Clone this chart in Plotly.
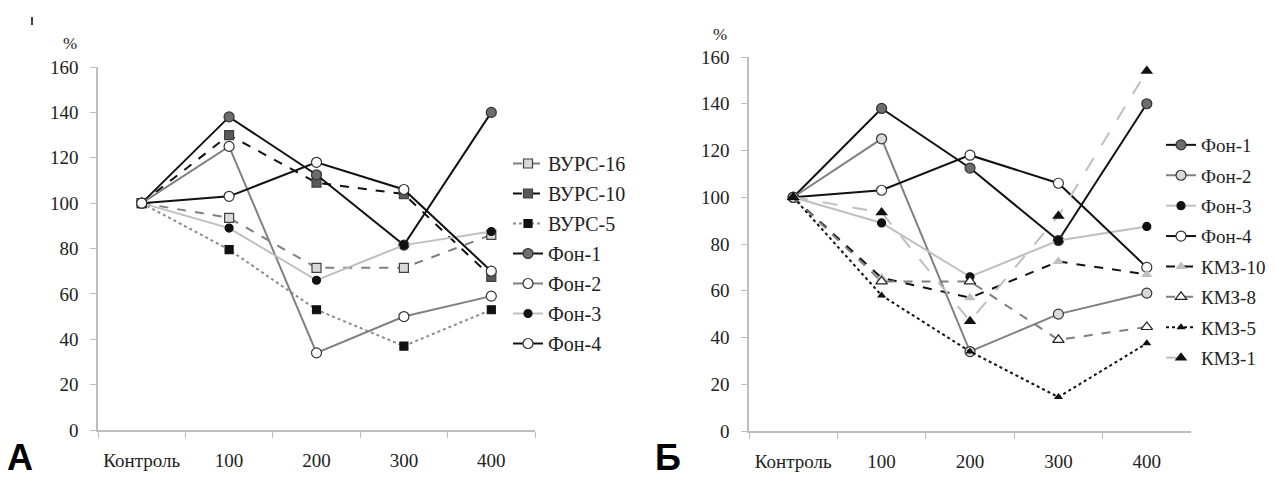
import plotly.graph_objects as go

# The page body has an 8px margin, so the figure is shrunk and all
# reference pixel positions are shifted by 8px.
OFF = 8
W, H = 1277 - 2 * OFF, 488 - 2 * OFF


def fx(px):
    return (px - OFF) / W


def fy(py):
    return (H - (py - OFF)) / H


categories = ["Контроль", "100", "200", "300", "400"]
y_ticks = [0, 20, 40, 60, 80, 100, 120, 140, 160]

# Panel A
vurs16 = [100, 93.5, 71.5, 71.5, 86]
vurs10 = [100, 130, 109, 104, 67.5]
vurs5 = [100, 79.5, 53, 37, 53]
fon1 = [100, 138, 112.5, 81.5, 140]
fon2 = [100, 125, 34, 50, 59]
fon3 = [100, 89, 66, 81.5, 87.5]
fon4 = [100, 103, 118, 106, 70]

# Panel B
kmz10 = [100, 65.5, 57, 72.5, 67]
kmz8 = [100, 64, 64, 39, 44.5]
kmz5 = [100, 58, 34, 14.5, 37.5]
kmz1 = [100, 93.5, 47, 92, 154]

SERIF = "Liberation Serif, Times New Roman, serif"
SANS = "Liberation Sans, Arial, sans-serif"
AX = "#bdbdbd"
TXT = "#222222"

fig = go.Figure()


def add(name, y, xa, ya, leg, lcolor, dash, msym, msize, mfill, mline, mlw=1.2, lw=2):
    fig.add_trace(go.Scatter(
        x=categories, y=y, name=name, mode="lines+markers",
        xaxis=xa, yaxis=ya, legend=leg, legendgroup=leg + name,
        line=dict(color=lcolor, width=lw, dash=dash),
        marker=dict(symbol=msym, size=msize, color=mfill,
                    line=dict(color=mline, width=mlw)),
        cliponaxis=False,
    ))


# Panel A traces
add("ВУРС-16", vurs16, "x", "y", "legend", "#7f7f7f", "dash", "square", 9, "#d9d9d9", "#404040")
add("ВУРС-10", vurs10, "x", "y", "legend", "#111111", "dash", "square", 9, "#595959", "#404040")
add("ВУРС-5", vurs5, "x", "y", "legend", "#8c8c8c", "dot", "square", 8, "#111111", "#111111")
add("Фон-1", fon1, "x", "y", "legend", "#111111", "solid", "circle", 10, "#6d6d6d", "#333333")
add("Фон-2", fon2, "x", "y", "legend", "#808080", "solid", "circle", 10, "#ffffff", "#333333")
add("Фон-3", fon3, "x", "y", "legend", "#bfbfbf", "solid", "circle", 8, "#111111", "#111111")
add("Фон-4", fon4, "x", "y", "legend", "#111111", "solid", "circle", 10, "#ffffff", "#333333")

# Panel B traces
add("Фон-1", fon1, "x2", "y2", "legend2", "#111111", "solid", "circle", 10, "#6d6d6d", "#333333")
add("Фон-2", fon2, "x2", "y2", "legend2", "#808080", "solid", "circle", 10, "#d9d9d9", "#333333")
add("Фон-3", fon3, "x2", "y2", "legend2", "#bfbfbf", "solid", "circle", 8, "#111111", "#111111")
add("Фон-4", fon4, "x2", "y2", "legend2", "#111111", "solid", "circle", 10, "#ffffff", "#333333")
add("КМЗ-10", kmz10, "x2", "y2", "legend2", "#111111", "dash", "triangle-up", 10, "#bfbfbf", "#bfbfbf", 0)
add("КМЗ-8", kmz8, "x2", "y2", "legend2", "#7f7f7f", "dash", "triangle-up", 10, "#ffffff", "#222222")
add("КМЗ-5", kmz5, "x2", "y2", "legend2", "#111111", "dot", "triangle-up", 8, "#111111", "#111111", 0)
add("КМЗ-1", kmz1, "x2", "y2", "legend2", "#bfbfbf", "longdash", "triangle-up", 11, "#111111", "#111111", 0)


def xax(domain, anchor):
    return dict(domain=domain, anchor=anchor, type="category",
                range=[-0.5, 4.5], showgrid=False, zeroline=False,
                showline=True, linecolor=AX, linewidth=1.5,
                ticks="outside", tickson="boundaries", ticklen=6,
                tickcolor=AX, tickwidth=1.2,
                tickfont=dict(family=SERIF, size=19, color=TXT),
                ticklabelstandoff=12, fixedrange=True, automargin=False)


def yax(domain, anchor):
    return dict(domain=domain, anchor=anchor, range=[0, 160],
                tickvals=y_ticks, showgrid=False, zeroline=False,
                showline=True, linecolor=AX, linewidth=1.5,
                ticks="outside", ticklen=6, tickcolor=AX, tickwidth=1.2,
                tickfont=dict(family=SERIF, size=19, color=TXT),
                ticklabelstandoff=8, fixedrange=True, automargin=False)


fig.update_layout(
    width=W, height=H, autosize=False,
    margin=dict(l=0, r=0, t=0, b=0, pad=0, autoexpand=False),
    paper_bgcolor="white", plot_bgcolor="white",
    xaxis=xax([fx(98), fx(535)], "y"),
    yaxis=yax([fy(430), fy(67)], "x"),
    xaxis2=xax([fx(749), fx(1191)], "y2"),
    yaxis2=yax([fy(431), fy(57)], "x2"),
    legend=dict(x=fx(508), y=fy(144), xanchor="left", yanchor="top",
                font=dict(family=SERIF, size=20, color=TXT),
                bgcolor="rgba(0,0,0,0)", tracegroupgap=1, itemwidth=30),
    legend2=dict(x=fx(1161), y=fy(126), xanchor="left", yanchor="top",
                 font=dict(family=SERIF, size=19, color=TXT),
                 bgcolor="rgba(0,0,0,0)", tracegroupgap=2.7, itemwidth=30),
    annotations=[
        dict(text="%", x=fx(61), y=fy(32), xref="paper", yref="paper",
             showarrow=False, font=dict(family=SERIF, size=17, color=TXT)),
        dict(text="%", x=fx(720), y=fy(23), xref="paper", yref="paper",
             showarrow=False, font=dict(family=SERIF, size=17, color=TXT)),
        dict(text="<b>А</b>", x=fx(5), y=0, xref="paper", yref="paper",
             xanchor="left", yanchor="bottom",
             showarrow=False, font=dict(family=SANS, size=36, color="black")),
        dict(text="<b>Б</b>", x=fx(653), y=0, xref="paper", yref="paper",
             xanchor="left", yanchor="bottom",
             showarrow=False, font=dict(family=SANS, size=36, color="black")),
    ],
    shapes=[
        dict(type="line", xref="paper", yref="paper", x0=fx(32), x1=fx(32),
             y0=fy(17), y1=fy(25), line=dict(color="black", width=1.5)),
    ],
)

fig.write_html("out.html")
